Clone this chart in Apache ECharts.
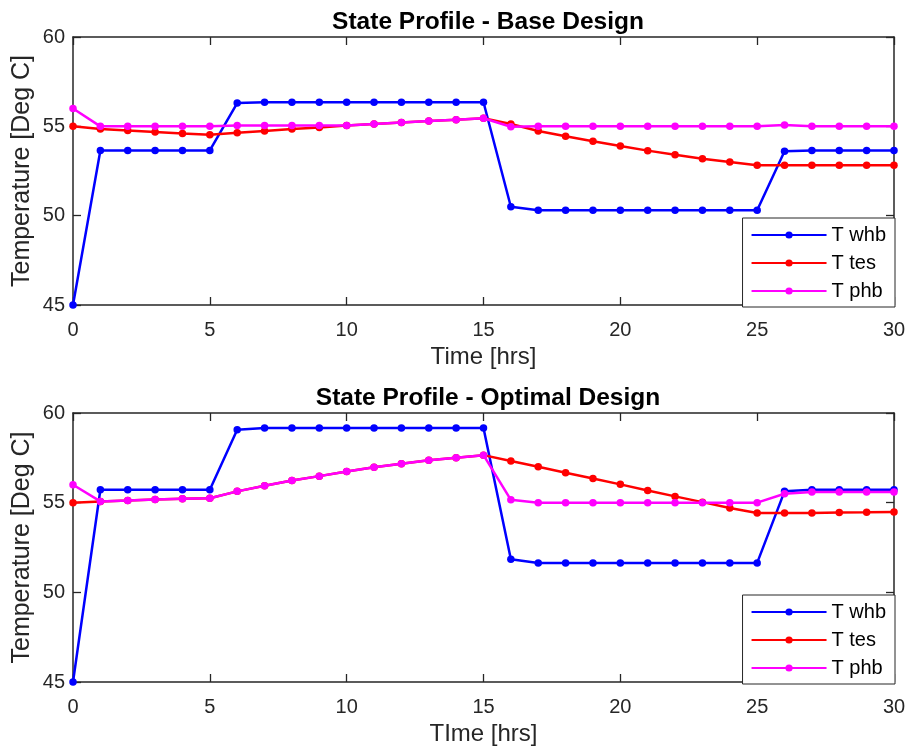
<!DOCTYPE html>
<html>
<head>
<meta charset="utf-8">
<script src="https://cdn.jsdelivr.net/npm/echarts@6/dist/echarts.min.js"></script>
<style>html,body{margin:0;padding:0;background:#fff}#c{width:909px;height:753px}</style>
</head>
<body>
<div id="c"></div>
<script>
var hours = [0,1,2,3,4,5,6,7,8,9,10,11,12,13,14,15,16,17,18,19,20,21,22,23,24,25,26,27,28,29,30];
var xTicks = [0,5,10,15,20,25,30];
var yTicks = [45,50,55,60];
var seriesNames = ['T whb','T tes','T phb'];
var titles = ['State Profile - Base Design','State Profile - Optimal Design'];
var xNames = ['Time [hrs]','TIme [hrs]'];
var yName = 'Temperature [Deg C]';

// Base design
var baseWhb = [45, 53.65,53.65,53.65,53.65,53.65, 56.3, 56.35,56.35,56.35,56.35,56.35,56.35,56.35,56.35,56.35, 50.5, 50.3,50.3,50.3,50.3,50.3,50.3,50.3,50.3,50.3, 53.6, 53.65,53.65,53.65,53.65];
var baseTes = [55.0,54.85,54.76,54.68,54.6,54.53,54.64,54.74,54.85,54.94,55.04,55.13,55.22,55.3,55.37,55.45,55.13,54.74,54.44,54.16,53.9,53.64,53.41,53.19,53.0,52.82,52.82,52.82,52.82,52.82,52.82];
var basePhb = [56.0,55.0,55.0,55.0,55.0,55.0,55.05,55.05,55.05,55.05,55.05,55.13,55.22,55.3,55.37,55.45,54.98,55.0,55.0,55.0,55.0,55.0,55.0,55.0,55.0,55.0,55.07,55.0,55.0,55.0,55.0];

// Optimal design
var optWhb = [45, 55.72,55.72,55.72,55.72,55.72, 59.07, 59.16,59.16,59.16,59.16,59.16,59.16,59.16,59.16,59.16, 51.85, 51.64,51.64,51.64,51.64,51.64,51.64,51.64,51.64,51.64, 55.63, 55.72,55.72,55.72,55.72];
var optTes = [55.0,55.07,55.12,55.18,55.22,55.25,55.63,55.94,56.24,56.48,56.74,56.97,57.17,57.36,57.51,57.65,57.32,57.0,56.67,56.35,56.02,55.68,55.35,55.03,54.7,54.42,54.42,54.43,54.45,54.46,54.48];
var optPhb = [56.0,55.07,55.12,55.18,55.22,55.25,55.63,55.94,56.24,56.48,56.74,56.97,57.17,57.36,57.51,57.65,55.16,55.0,55.0,55.0,55.0,55.0,55.0,55.0,55.0,55.0,55.5,55.59,55.59,55.59,55.59];

var colors = ['#0000FF','#FF0000','#FF00FF'];
var AX = '#262626';
var FONT = '"Liberation Sans", Arial, sans-serif';

function pairs(vals){ return hours.map(function(h,i){ return [h, vals[i]]; }); }

var grids = [
  {left:73, right:15, top:37, height:268},
  {left:73, right:15, top:413, height:269}
];

function xAx(gi, pos, showLabel){
  return {
    type:'value', gridIndex:gi, position:pos, min:xTicks[0], max:xTicks[xTicks.length-1], interval:5,
    name: showLabel ? xNames[gi] : '', nameLocation:'middle', nameGap:40, nameMoveOverlap:false,
    nameTextStyle:{color:AX, fontSize:24, fontFamily:FONT},
    axisLine:{show:true, onZero:false, lineStyle:{color:AX, width:1.5}},
    axisTick:{show:true, inside:true, length:8, lineStyle:{color:AX, width:1.3}},
    axisLabel:{show:showLabel, color:AX, fontSize:20, fontFamily:FONT, margin:15},
    splitLine:{show:false}
  };
}
function yAx(gi, pos, showLabel){
  return {
    type:'value', gridIndex:gi, position:pos, min:yTicks[0], max:yTicks[yTicks.length-1], interval:5,
    name: showLabel ? yName : '', nameLocation:'middle', nameGap:38, nameMoveOverlap:false,
    nameTextStyle:{color:AX, fontSize:25, fontFamily:FONT},
    axisLine:{show:true, onZero:false, lineStyle:{color:AX, width:1.5}},
    axisTick:{show:true, inside:true, length:8, lineStyle:{color:AX, width:1.3}},
    axisLabel:{show:showLabel, color:AX, fontSize:20, fontFamily:FONT, margin:8},
    splitLine:{show:false}
  };
}

var dataSets = [[baseWhb, baseTes, basePhb],[optWhb, optTes, optPhb]];
var series = [];
dataSets.forEach(function(set, gi){
  set.forEach(function(vals, si){
    series.push({
      type:'line', name:seriesNames[si], xAxisIndex:gi*2, yAxisIndex:gi*2,
      data:pairs(vals), symbol:'circle', symbolSize:7.5, showSymbol:true,
      lineStyle:{color:colors[si], width:2.5}, itemStyle:{color:colors[si]},
      emphasis:{disabled:true}, animation:false, clip:false, z:2+si
    });
  });
});

function legend(top){
  return {
    orient:'vertical', right:14, top:top, data:seriesNames, selectedMode:false,
    itemWidth:75, itemHeight:9, itemGap:8,
    padding:[7,9,6,8],
    backgroundColor:'#fff', borderColor:AX, borderWidth:1, borderRadius:0,
    textStyle:{color:'#000', fontSize:20, fontFamily:FONT},
    z:10
  };
}

var option = {
  animation:false,
  backgroundColor:'#fff',
  title: [
    {text:titles[0], left:483, top:5, textAlign:'center', textStyle:{color:'#000', fontSize:24.5, fontWeight:'bold', fontFamily:FONT}},
    {text:titles[1], left:483, top:381, textAlign:'center', textStyle:{color:'#000', fontSize:24.5, fontWeight:'bold', fontFamily:FONT}}
  ],
  grid: grids,
  xAxis: [xAx(0,'bottom',true), xAx(0,'top',false), xAx(1,'bottom',true), xAx(1,'top',false)],
  yAxis: [yAx(0,'left',true), yAx(0,'right',false), yAx(1,'left',true), yAx(1,'right',false)],
  legend: [legend(218), legend(595)],
  series: series
};

var chart = echarts.init(document.getElementById('c'), null, {renderer:'canvas'});
chart.setOption(option);
</script>
</body>
</html>
